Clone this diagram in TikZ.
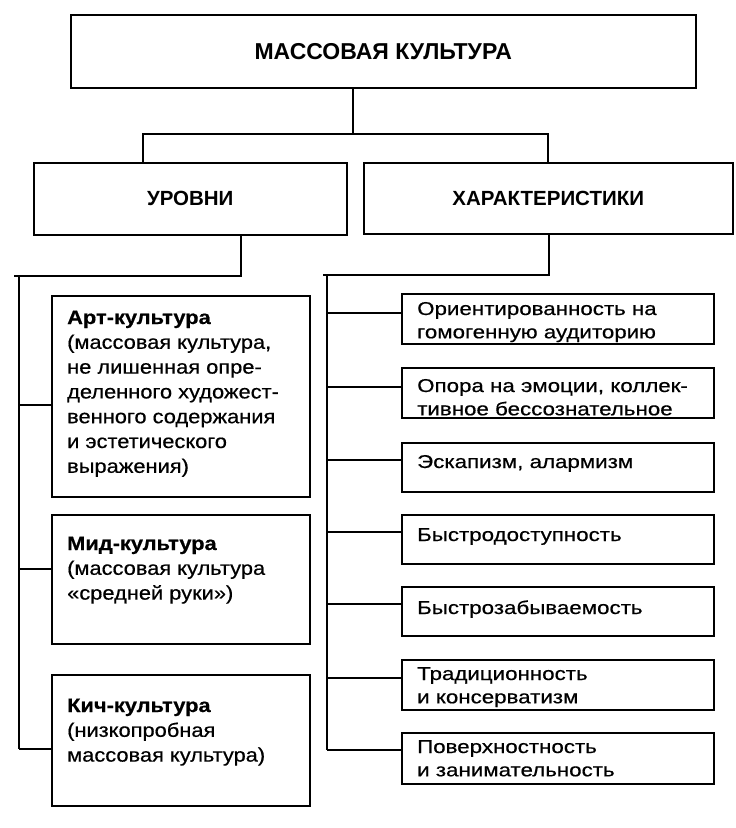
\documentclass[tikz,border=0pt]{standalone}
\usepackage{fontspec}
\setmainfont{Liberation Sans}
\newfontfamily\lfont[FakeStretch=1.12,FakeBold=0.5]{Liberation Sans}
\newfontfamily\rfont[FakeStretch=1.2,FakeBold=0.5]{Liberation Sans}
\newcommand{\ltext}[2]{\parbox[t]{#1pt}{\raggedright\lfont\fontsize{19.5}{24.8}\selectfont #2}}
\newcommand{\rtext}[1]{\parbox[t]{300pt}{\raggedright\rfont\fontsize{18.6}{23.3}\selectfont #1}}
\begin{document}
\begin{tikzpicture}[x=1pt,y=-1pt,
  box/.style={draw, line width=1.5pt, inner sep=0pt, anchor=north west},
  lbl/.style={anchor=base west, inner sep=0pt},
  conn/.style={line width=1.4pt}]
\useasboundingbox[fill=white] (0,0) rectangle (736,828);
% top level
\node[box, minimum width=625, minimum height=73] (top) at (70,14) {\bfseries\fontsize{23}{27}\selectfont МАССОВАЯ КУЛЬТУРА};
\node[box, minimum width=313, minimum height=72] (lev) at (33,162) {\bfseries\fontsize{20.5}{24}\selectfont УРОВНИ};
\node[box, minimum width=369, minimum height=71] (chr) at (363,162) {\bfseries\fontsize{20.5}{24}\selectfont ХАРАКТЕРИСТИКИ};
% levels boxes
\node[box, minimum width=258, minimum height=201] (art) at (51,295) {};
\node[box, minimum width=258, minimum height=129] (mid) at (51,514) {};
\node[box, minimum width=258, minimum height=131] (kit) at (51,674) {};
\node[lbl] (tart) at (67,324) {\ltext{240}{\textbf{Арт-культура}\\(массовая культура,\\не лишенная опре-\\деленного художест-\\венного содержания\\и эстетического\\выражения)}};
\node[lbl] (tmid) at (67,550) {\ltext{240}{\textbf{Мид-культура}\\(массовая культура\\«средней руки»)}};
\node[lbl] (tkit) at (67,712) {\ltext{240}{\textbf{Кич-культура}\\(низкопробная\\массовая культура)}};
% characteristic boxes
\node[box, minimum width=312, minimum height=50] (c1) at (401,293) {};
\node[box, minimum width=312, minimum height=50] (c2) at (401,367) {};
\node[box, minimum width=312, minimum height=49] (c3) at (401,442) {};
\node[box, minimum width=312, minimum height=49] (c4) at (401,514) {};
\node[box, minimum width=312, minimum height=49] (c5) at (401,586) {};
\node[box, minimum width=312, minimum height=50] (c6) at (401,659) {};
\node[box, minimum width=312, minimum height=51] (c7) at (401,732) {};
\node[lbl] (t1) at (417,315) {\rtext{Ориентированность на\\гомогенную аудиторию}};
\node[lbl] (t2) at (417,392) {\rtext{Опора на эмоции, коллек-\\тивное бессознательное}};
\node[lbl] (t3) at (417,468) {\rtext{Эскапизм, алармизм}};
\node[lbl] (t4) at (417,541) {\rtext{Быстродоступность}};
\node[lbl] (t5) at (417,614) {\rtext{Быстрозабываемость}};
\node[lbl] (t6) at (417,680) {\rtext{Традиционность\\и консерватизм}};
\node[lbl] (t7) at (417,753) {\rtext{Поверхностность\\и занимательность}};
% connectors: top
\coordinate (j0) at (353,134);
\coordinate (jl) at (143,134);
\coordinate (jr) at (548,134);
\draw[conn] (top.south -| j0) -- (j0);
\draw[conn] (lev.north -| jl) -- (jl) -- (jr) -- (chr.north -| jr);
% levels spine
\coordinate (lv) at (241,276);
\coordinate (lh) at (14,276);
\coordinate (ls) at (19,276);
\coordinate (la) at (19,405);
\coordinate (lm) at (19,569);
\coordinate (lk) at (19,749);
\draw[conn] (lev.south -| lv) -- (lv) -- (lh);
\draw[conn] (ls) -- (lk);
\draw[conn] (la) -- (art.west |- la);
\draw[conn] (lm) -- (mid.west |- lm);
\draw[conn] (lk) -- (kit.west |- lk);
% characteristics spine
\coordinate (rv) at (549,275);
\coordinate (rh) at (323,275);
\coordinate (rs) at (327,275);
\coordinate (r1) at (327,313);
\coordinate (r2) at (327,387);
\coordinate (r3) at (327,460);
\coordinate (r4) at (327,532);
\coordinate (r5) at (327,604);
\coordinate (r6) at (327,678);
\coordinate (r7) at (327,750);
\draw[conn] (chr.south -| rv) -- (rv) -- (rh);
\draw[conn] (rs) -- (r7);
\foreach \i in {1,...,7} {\draw[conn] (r\i) -- (c\i.west |- r\i);}
\end{tikzpicture}
\end{document}
